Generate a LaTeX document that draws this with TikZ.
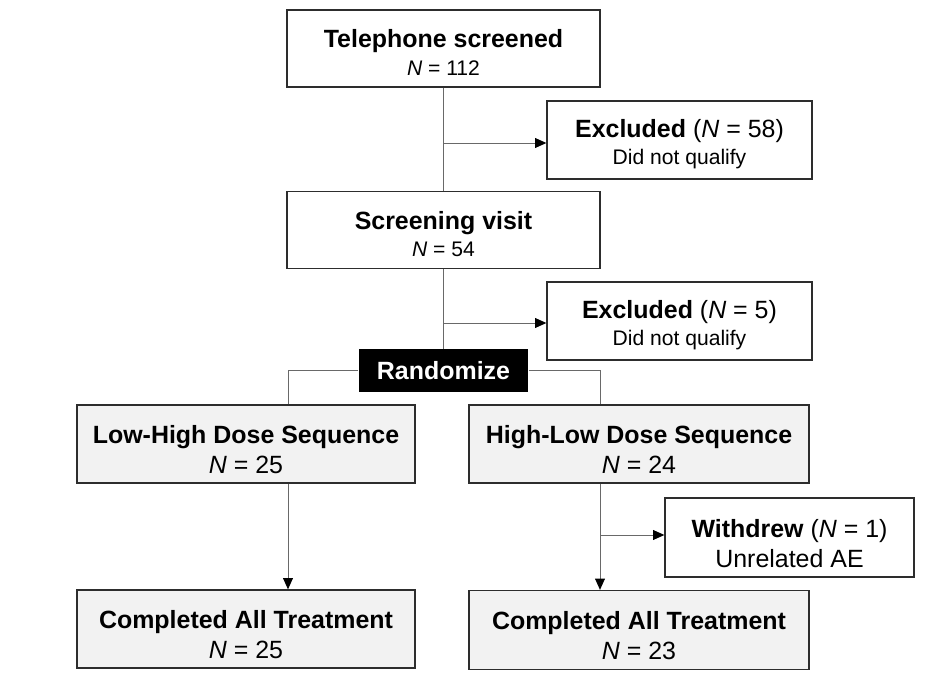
\documentclass[tikz,border=0pt]{standalone}
\usepackage{fontspec}
\setmainfont{Liberation Sans}
\usetikzlibrary{arrows.meta}
\definecolor{boxline}{RGB}{45,45,45}
\definecolor{conline}{RGB}{105,105,105}
\definecolor{boxfill}{RGB}{242,242,242}
\newcommand{\bigtxt}{\fontsize{14.2}{17}\selectfont}
\newcommand{\toptxt}{\fontsize{14.2}{15.6}\selectfont}
\newcommand{\smalltxt}{\fontsize{12}{15.6}\selectfont}
% struts that push the two text lines a little below the box centre
\newcommand{\topstrut}{\rule{0pt}{15pt}}
\newcommand{\lowstrut}{\rule{0pt}{17pt}}
\begin{document}
\begin{tikzpicture}[x=0.02cm,y=-0.02cm,align=center,
        >={Triangle[length=6.4pt,width=5.6pt,color=black]},
        main node/.style={rectangle,draw=boxline,line width=0.75pt,inner sep=0pt,font=\bigtxt},
        top node/.style={main node,font=\toptxt},
        grey node/.style={main node,fill=boxfill},
        rand node/.style={rectangle,fill=black,text=white,inner sep=0pt,font=\bigtxt\bfseries,minimum width=3.4cm,minimum height=0.86cm},
        conn/.style={draw=conline,line width=0.55pt}]
    \useasboundingbox (0,0) rectangle (941,682);

    \node[top node,minimum width=6.26cm,minimum height=1.54cm] (tel) at (443.5,48.5) {\topstrut\textbf{Telephone screened}\\ {\smalltxt\textit{N} = 112}};
    \node[top node,minimum width=5.3cm,minimum height=1.56cm] (exc1) at (679.5,140) {\topstrut\textbf{Excluded} (\textit{N} = 58)\\ {\smalltxt Did not qualify}};
    \node[top node,minimum width=6.26cm,minimum height=1.54cm] (scr) at (443.5,230) {\topstrut\textbf{Screening visit}\\ {\smalltxt\textit{N} = 54}};
    \node[top node,minimum width=5.3cm,minimum height=1.56cm] (exc2) at (679.5,321) {\topstrut\textbf{Excluded} (\textit{N} = 5)\\ {\smalltxt Did not qualify}};
    \node[rand node] (rand) at (443.5,370.5) {Randomize};
    \node[grey node,minimum width=6.76cm,minimum height=1.56cm] (lh) at (246,444) {\lowstrut\textbf{Low-High Dose Sequence}\\ \textit{N} = 25};
    \node[grey node,minimum width=6.8cm,minimum height=1.56cm] (hl) at (639,444) {\lowstrut\textbf{High-Low Dose Sequence}\\ \textit{N} = 24};
    \node[main node,minimum width=4.98cm,minimum height=1.58cm] (wd) at (789.5,537.5) {\lowstrut\textbf{Withdrew} (\textit{N} = 1)\\ Unrelated AE};
    \node[grey node,minimum width=6.76cm,minimum height=1.56cm] (lc) at (246,629) {\lowstrut\textbf{Completed All Treatment}\\ \textit{N} = 25};
    \node[grey node,minimum width=6.8cm,minimum height=1.58cm] (hc) at (639,630) {\lowstrut\textbf{Completed All Treatment}\\ \textit{N} = 23};

    \coordinate (b1) at (443.5,143);
    \coordinate (b2) at (443.5,323);
    \coordinate (lx) at (288,370.5);
    \coordinate (rx) at (600,370.5);
    \coordinate (b3) at (600,535);

    \draw[conn] (tel) -- (scr);
    \draw[conn] (scr) -- (rand);
    \draw[conn] (rand.west) -- (lx) -- (lx |- lh.north);
    \draw[conn] (rand.east) -- (rx) -- (rx |- hl.north);
    \draw[conn,->] (b1) -- (b1 -| exc1.west);
    \draw[conn,->] (b2) -- (b2 -| exc2.west);
    \draw[conn,->] (lh.south -| lx) -- (lc.north -| lx);
    \draw[conn,->] (hl.south -| rx) -- (hc.north -| rx);
    \draw[conn,->] (b3) -- (b3 -| wd.west);
\end{tikzpicture}
\end{document}
